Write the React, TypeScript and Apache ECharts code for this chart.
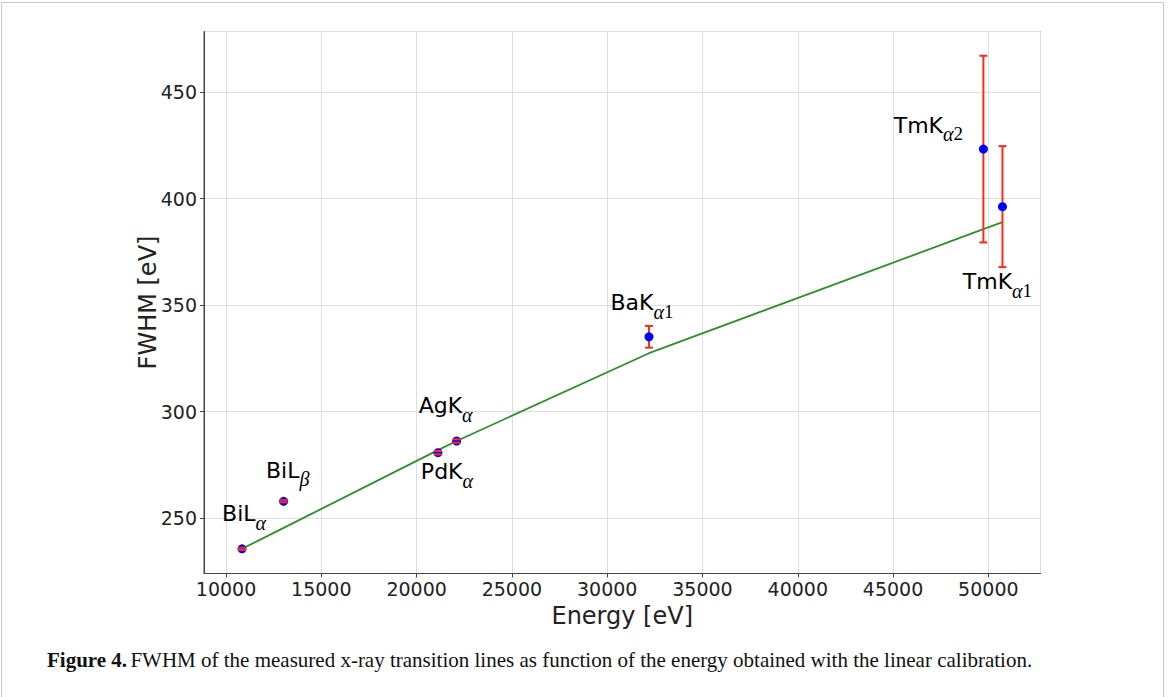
import React, { useEffect, useRef } from 'react';
import * as echarts from 'echarts';

const lineNames = ['BiL', 'BiL', 'PdK', 'AgK', 'BaK', 'TmK', 'TmK'];
const lineGreek = ['α', 'β', 'α', 'α', 'α', 'α', 'α'];
const lineIndex = ['', '', '', '', '1', '2', '1'];
const energies = [10839, 13024, 21120, 22100, 32194, 49740, 50742];
const fwhm = [235.6, 257.9, 280.7, 286.2, 335.1, 423.2, 396.2];
const fwhmErr = [0.5, 0.5, 0.8, 0.8, 5.1, 43.8, 28.4];
const fitFwhm = [235.6, 245.4, 281.9, 286.2, 327.4, 385.6, 388.9];
const xRange = [8844, 52737];
const yRange = [224.0, 478.4];
const xTickStep = 5000;
const yTickStep = 50;

// label placement (pixels, relative to each point)
const labelOffsets = [[2, -34], [4, -30], [9, 20], [-11, -34], [-7, -33], [-55, -23], [-5, 76]];

const SANS = 'DejaVu Sans';
const SERIF = 'Liberation Serif';

export default function App() {
  const ref = useRef<HTMLDivElement>(null);
  useEffect(() => {
    document.body.style.margin = '0';
    const chart = echarts.init(ref.current!, null, { renderer: 'svg' });
    const errData = energies.map((e, i) => [e, fwhm[i], fwhmErr[i]]);
    const stems = (params: any, api: any) => {
      const x = api.value(0), y = api.value(1), d = api.value(2);
      const a = api.coord([x, y + d]);
      const b = api.coord([x, y - d]);
      return { type: 'line', shape: { x1: a[0], y1: a[1], x2: b[0], y2: b[1] }, style: { stroke: '#ff2a1a', lineWidth: 2 } };
    };
    const caps = (params: any, api: any) => {
      const x = api.value(0), y = api.value(1), d = api.value(2);
      const a = api.coord([x, y + d]);
      const b = api.coord([x, y - d]);
      const w = 4;
      return {
        type: 'group',
        children: [
          { type: 'line', shape: { x1: a[0] - w, y1: a[1], x2: a[0] + w, y2: a[1] }, style: { stroke: '#ff2a1a', lineWidth: 2 } },
          { type: 'line', shape: { x1: b[0] - w, y1: b[1], x2: b[0] + w, y2: b[1] }, style: { stroke: '#ff2a1a', lineWidth: 2 } },
        ],
      };
    };
    const subStyle = { padding: [10, 0, 0, 0], lineHeight: 17, verticalAlign: 'top', color: '#000' };
    chart.setOption({
      animation: false,
      backgroundColor: '#fff',
      grid: {
        left: 204, top: 31.5, right: 127.5, bottom: 123.5,
        show: true, borderColor: '#444', borderWidth: 1, backgroundColor: 'transparent',
      },
      xAxis: {
        type: 'value', min: xRange[0], max: xRange[1], splitNumber: 9,
        minInterval: xTickStep, maxInterval: xTickStep,
        name: 'Energy [eV]', nameLocation: 'middle', nameGap: 30,
        nameTextStyle: { fontFamily: SANS, fontSize: 24, color: '#222' },
        axisLine: { show: true, lineStyle: { color: '#444', width: 1 } },
        axisTick: { show: true, length: 4, lineStyle: { color: '#444' } },
        axisLabel: {
          fontFamily: SANS, fontSize: 19, color: '#222', margin: 6,
          showMinLabel: false, showMaxLabel: false,
          formatter: (v: number) => (Math.abs(v % xTickStep) < 1e-6 ? String(v) : ''),
        },
        splitLine: { show: true, lineStyle: { color: '#dedede', width: 1 } },
      },
      yAxis: {
        type: 'value', min: yRange[0], max: yRange[1], splitNumber: 5,
        minInterval: yTickStep, maxInterval: yTickStep,
        name: 'FWHM [eV]', nameLocation: 'middle', nameGap: 44, nameRotate: 90,
        nameMoveOverlap: false,
        nameTextStyle: { fontFamily: SANS, fontSize: 24, color: '#222' },
        axisLine: { show: true, lineStyle: { color: '#444', width: 1 } },
        axisTick: { show: true, length: 4, lineStyle: { color: '#444' } },
        axisLabel: {
          fontFamily: SANS, fontSize: 19, color: '#222', margin: 7,
          showMinLabel: false, showMaxLabel: false,
          formatter: (v: number) => (Math.abs(v % yTickStep) < 1e-6 ? String(v) : ''),
        },
        splitLine: { show: true, lineStyle: { color: '#dedede', width: 1 } },
      },
      series: [
        {
          type: 'line', z: 2, data: energies.map((e, i) => [e, fitFwhm[i]]),
          showSymbol: false, symbol: 'none', lineStyle: { color: '#2e8f2a', width: 1.8 },
        },
        { type: 'custom', z: 3, renderItem: stems, data: errData, clip: false },
        {
          type: 'scatter', z: 4, symbolSize: 9,
          itemStyle: { color: '#0000ff', opacity: 1 },
          data: energies.map((e, i) => ({
            value: [e, fwhm[i]],
            label: { offset: labelOffsets[i] },
          })),
          label: {
            show: true, position: 'inside', align: 'center', verticalAlign: 'middle',
            formatter: (p: any) => {
              const i = p.dataIndex;
              return `{b|${lineNames[i]}}{g|${lineGreek[i]}}` + (lineIndex[i] ? `{d|${lineIndex[i]}}` : '');
            },
            rich: {
              b: { fontFamily: SANS, fontSize: 22, lineHeight: 24, verticalAlign: 'top', color: '#000' },
              g: { ...subStyle, fontFamily: SERIF, fontSize: 20, fontStyle: 'italic' },
              d: { ...subStyle, fontFamily: SERIF, fontSize: 19 },
            },
          },
        },
        { type: 'custom', z: 5, renderItem: caps, data: errData, clip: false },
      ],
      graphic: [
        {
          type: 'rect', silent: true, z: -1,
          shape: { x: 1.5, y: 2.5, width: 1162, height: 720 },
          style: { fill: 'none', stroke: '#c8c8c8', lineWidth: 1 },
        },
        {
          type: 'text', left: 47, top: 649,
          style: {
            text: '{h|Figure 4.} {r|FWHM of the measured x-ray transition lines as function of the energy obtained with the linear calibration.}',
            rich: {
              h: { fontFamily: SERIF, fontSize: 21, fontWeight: 'bold', fill: '#111' },
              r: { fontFamily: SERIF, fontSize: 21, fill: '#111' },
            },
          },
        },
      ],
    });
    return () => chart.dispose();
  }, []);
  return <div ref={ref} style={{ width: 1168, height: 697 }} />;
}
